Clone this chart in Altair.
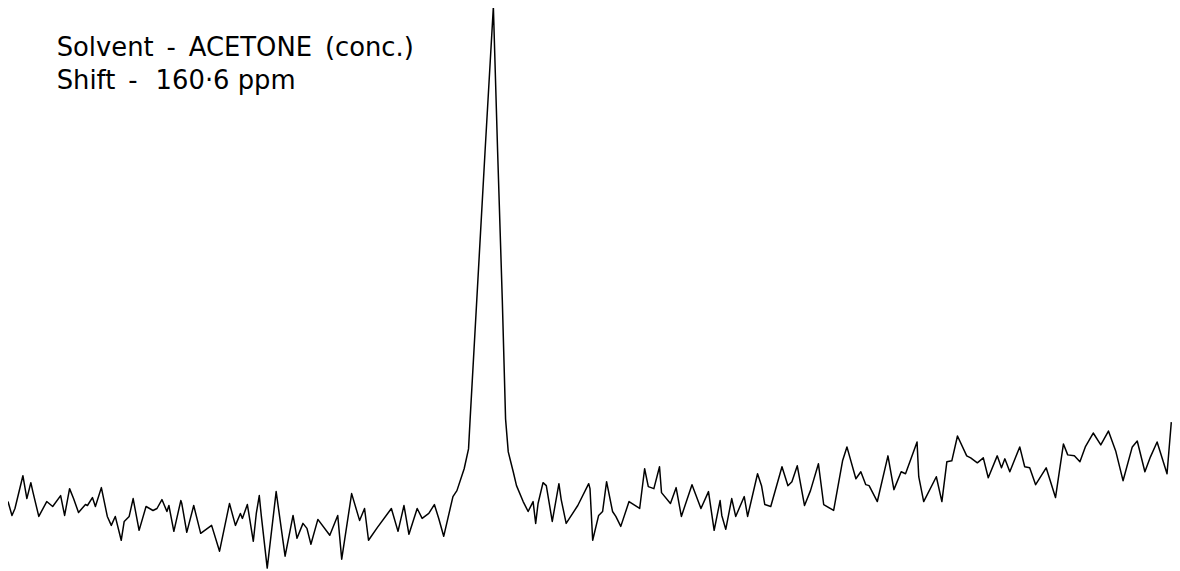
import altair as alt
import pandas as pd

# Spectrum trace (position along the sweep, signal intensity)
positions = [
    8, 12, 15, 23, 27, 31, 33, 39, 47, 53, 61, 65, 70, 74, 79, 86, 88, 93, 96, 102,
    108, 112, 116, 122, 125, 130, 134, 140, 147, 154, 158, 163, 168, 170, 175, 182, 183, 188,
    195, 202, 213, 221, 231, 237, 242, 244, 249, 255, 258, 261, 263, 269, 278, 287, 295, 299,
    305, 309, 313, 320, 332, 340, 344, 354, 362, 367, 371, 380,
    394, 400.7, 406.7, 411.7, 420, 425, 431.7, 437.3, 441.7, 446.7, 456, 460, 467.3, 471.7,
    473.3, 480, 488.3, 496.7, 501, 505.7, 509, 511.7, 516.7, 520, 526.7, 531.7, 536.7, 539.3,
    541.7, 546.7, 550, 556, 562.7, 565, 570, 581.7, 592.7, 594, 596.7, 602.7, 606.7, 610.7,
    616.7, 620, 625, 633.3, 644, 649, 652.7, 658.3, 664, 666, 675, 680.7, 686, 696.7, 705.7,
    713.3, 719, 725, 726.7, 730.7, 736.7, 740.7, 749.3, 752.7, 762.7, 766.7, 770, 776, 787.3,
    793.3, 797.3, 802.7, 810, 816, 824, 829.3, 839.3, 848.3, 852.7, 861.7, 866.7, 871.7, 875,
    883.3, 894, 900, 907.3, 911.7, 923.3, 925, 930, 942.7, 948.3, 953.3, 958.3, 964, 973.3,
    977.3, 984, 990, 995, 1004, 1008.3, 1011.7, 1016.7, 1026.7, 1031.7, 1036.7, 1042.7, 1053.3,
    1062.7, 1070.7, 1075, 1081.7, 1087.3, 1092.7, 1100.7, 1108.3, 1116, 1123.3, 1130.7, 1140,
    1145, 1152.7, 1158.3, 1165, 1175, 1179.3,
]
screen_y = [
    503, 517, 510, 477, 500, 484, 493, 518, 503, 508, 497, 517, 490, 500, 514, 506, 507, 499, 508, 489,
    518, 527, 518, 542, 523, 518, 500, 532, 508, 512, 510, 501, 513, 507, 533, 502, 505, 534,
    507, 535, 527, 553, 505, 527, 515, 520, 506, 543, 515, 497, 517, 570, 493, 558, 517, 540,
    525, 530, 546, 521, 537, 517, 561, 495, 522, 510, 542, 529,
    510, 533, 507, 536, 510, 520, 515, 506, 520, 538, 498, 492, 470, 450,
    420, 300, 151, 5, 151, 300, 420, 453, 473, 487, 503, 513, 503, 525,
    505, 484, 487, 523, 485, 501, 525, 507, 485, 490, 542, 517, 513, 483,
    513, 518, 528, 503, 510, 470, 488, 490, 468, 494, 505, 489, 518, 486, 510,
    493, 532, 502, 517, 531, 500, 518, 498, 518, 475, 487, 506, 508, 468,
    487, 483, 467, 507, 492, 465, 506, 512, 462, 448, 480, 473, 486, 487,
    503, 457, 491, 473, 475, 443, 478, 503, 478, 503, 463, 462, 437, 457,
    459, 464, 459, 479, 457, 469, 460, 473, 448, 468, 469, 486, 469,
    499, 445, 456, 457, 463, 448, 434, 446, 432, 452, 482, 448,
    442, 473, 458, 443, 475, 423,
]
intensity = [571 - v for v in screen_y]

labels = [
    "Solvent\u2002-\u2002ACETONE\u2002(conc.)",
    "Shift\u2002-\u2002\u2009160\u00b76 ppm",
]

df = pd.DataFrame({"position": positions, "intensity": intensity})
df["order"] = range(len(df))

W, H = 1172, 563

line = alt.Chart(df).mark_line(color="black", strokeWidth=1.5, strokeJoin="round").encode(
    x=alt.X("position:Q", scale=alt.Scale(domain=[8, 1180], nice=False, zero=False), axis=None),
    y=alt.Y("intensity:Q", scale=alt.Scale(domain=[0, 563], nice=False, zero=False), axis=None),
    order="order:Q",
)

t1 = alt.Chart(pd.DataFrame({"label": [labels[0]]})).mark_text(
    align="left", baseline="alphabetic", font="DejaVu Sans", fontSize=26, color="black"
).encode(text="label:N", x=alt.value(49), y=alt.value(46))

t2 = alt.Chart(pd.DataFrame({"label": [labels[1]]})).mark_text(
    align="left", baseline="alphabetic", font="DejaVu Sans", fontSize=26, color="black"
).encode(text="label:N", x=alt.value(49), y=alt.value(80))

chart = alt.layer(line, t1, t2).properties(
    width=W, height=H, padding=0, autosize=alt.AutoSizeParams(type="none"),
    background="white",
).configure_view(stroke=None)

chart.save("out.html", embed_options={"renderer": "svg", "actions": False})
